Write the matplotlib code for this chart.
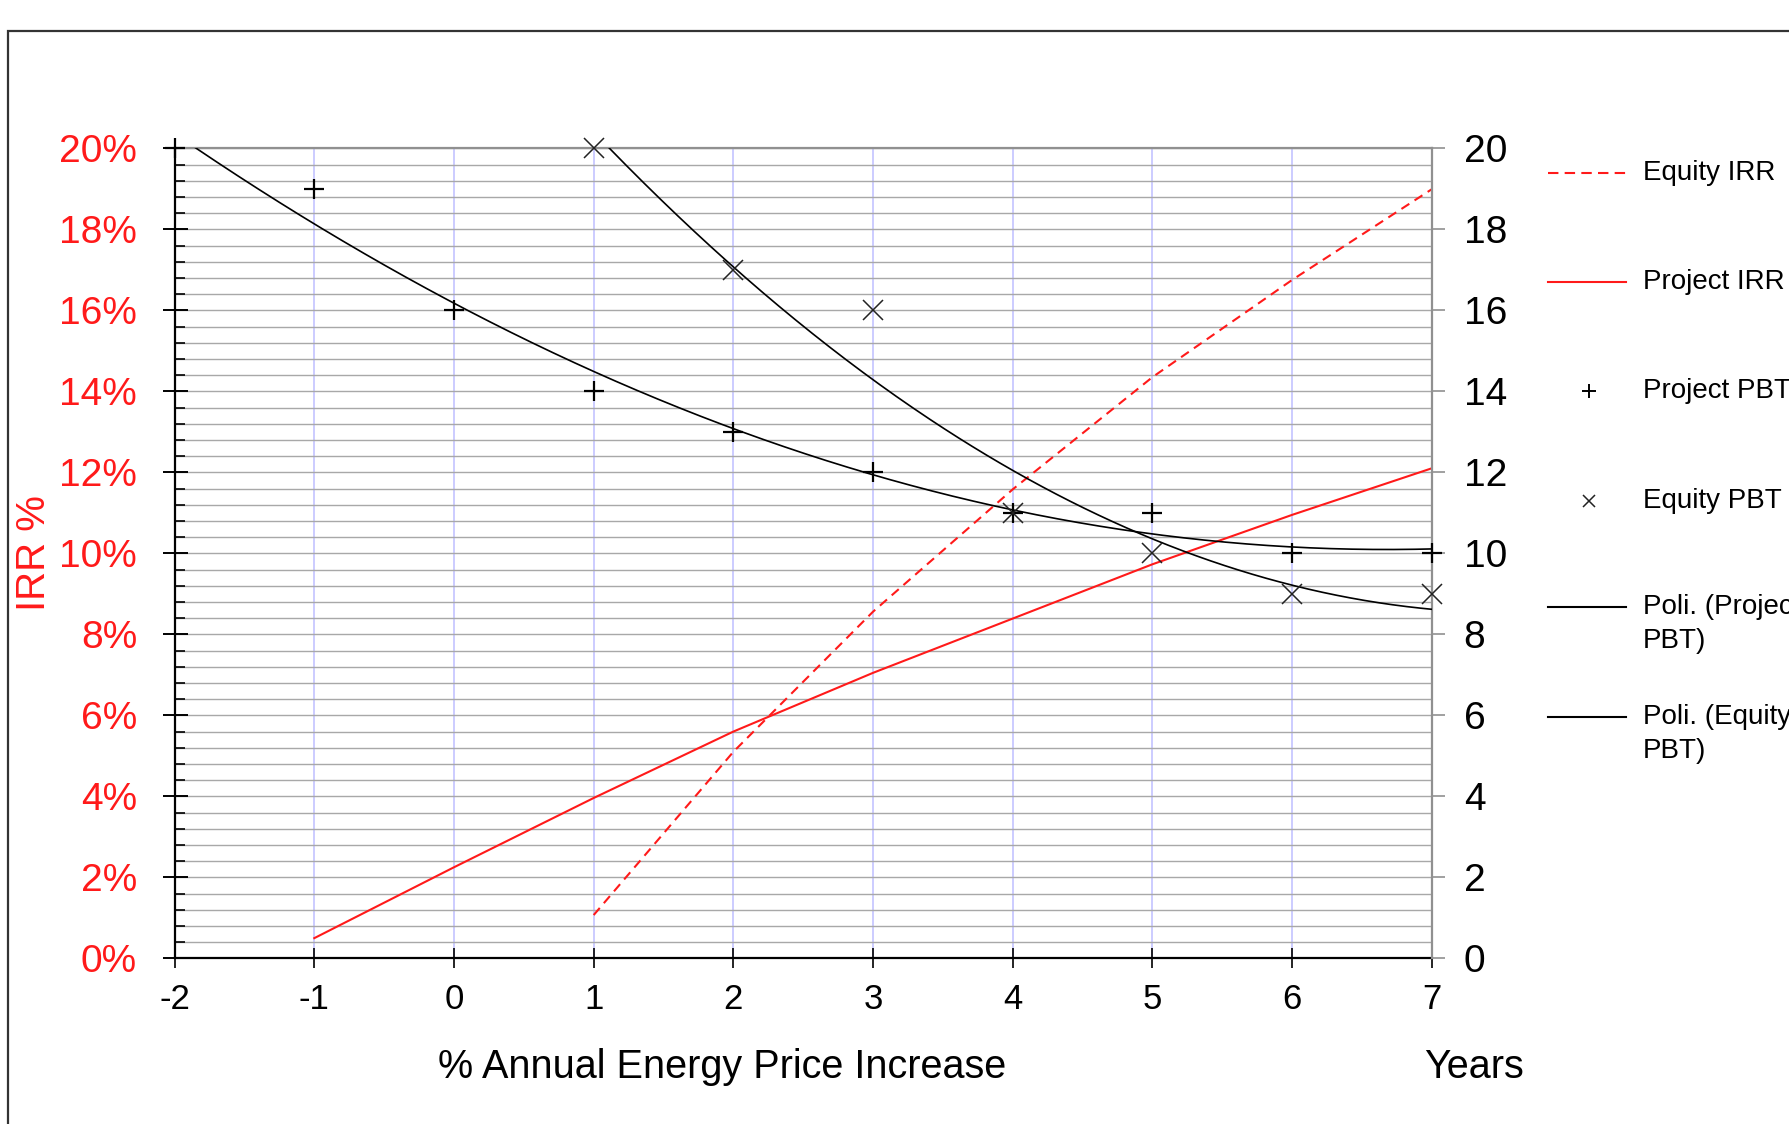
import numpy as np
import matplotlib
matplotlib.use('Agg')
import matplotlib.pyplot as plt
from matplotlib.ticker import MultipleLocator, FuncFormatter
from matplotlib.lines import Line2D
from matplotlib.patches import Rectangle

plt.rcParams['font.family'] = ['Liberation Sans', 'DejaVu Sans']
plt.rcParams['axes.unicode_minus'] = False

# IRR series (left axis, %)
irr_x_project = [-1, 0, 1, 2, 3, 4, 5, 6, 7]
project_irr = [0.5, 2.25, 3.96, 5.6, 7.05, 8.39, 9.73, 10.95, 12.1]
irr_x_equity = [1, 2, 3, 4, 5, 6, 7]
equity_irr = [1.07, 5.1, 8.56, 11.58, 14.35, 16.75, 18.99]

# payback time series (right axis, years)
pbt_x_project = [-2, -1, 0, 1, 2, 3, 4, 5, 6, 7]
project_pbt = [20, 19, 16, 14, 13, 12, 11, 11, 10, 10]
pbt_x_equity = [1, 2, 3, 4, 5, 6, 7]
equity_pbt = [20, 17, 16, 11, 10, 9, 9]

x_ticks = [-2, -1, 0, 1, 2, 3, 4, 5, 6, 7]

W, H = 1789, 1124
fig = plt.figure(figsize=(W / 100, H / 100), dpi=100)

# outer chart frame (right and bottom edges fall outside the image)
fig.patches.append(Rectangle((8 / W, -0.05), 1.1, 1 - 31 / H + 0.05,
                             transform=fig.transFigure, fill=False,
                             edgecolor='#333333', linewidth=1.6))

left, right, top, bottom = 174.6, 1431.8, 148.3, 958.4
ax = fig.add_axes([left / W, 1 - bottom / H, (right - left) / W, (bottom - top) / H])
ax2 = ax.twinx()

# grid
ax.set_xlim(-2, 7)
ax.set_ylim(0, 20)
ax.set_xticks(x_ticks)
ax.set_yticks(np.arange(0, 21, 2))
ax.yaxis.set_minor_locator(MultipleLocator(0.4))
ax.grid(True, which='both', axis='y', color='#a8a8a8', linewidth=1.0)
ax.grid(True, which='major', axis='x', color='#c4c4ff', linewidth=1.2)
ax.set_axisbelow(True)

# IRR lines
ax.plot(irr_x_project, project_irr, color='#ff1a1a', linewidth=1.5, zorder=3)
ax.plot(irr_x_equity, equity_irr, color='#ff1a1a', linewidth=1.5,
        dashes=(4.5, 3), zorder=3)

# PBT points + polynomial trendlines
ax2.set_ylim(0, 20)
ax2.set_yticks(np.arange(0, 21, 2))
ax2.plot(pbt_x_project, project_pbt, linestyle='none', marker='+',
         markersize=15, markeredgewidth=1.6, color='black', clip_on=False, zorder=4)
ax2.plot(pbt_x_equity, equity_pbt, linestyle='none', marker='x',
         markersize=15, markeredgewidth=1.1, color='#222222', clip_on=False, zorder=4)

fp = np.polyfit(pbt_x_project, project_pbt, 2)
xs = np.linspace(pbt_x_project[0], pbt_x_project[-1], 300)
ax2.plot(xs, np.polyval(fp, xs), color='black', linewidth=1.2, zorder=3)
fe = np.polyfit(pbt_x_equity, equity_pbt, 2)
xs = np.linspace(pbt_x_equity[0], pbt_x_equity[-1], 300)
ax2.plot(xs, np.polyval(fe, xs), color='black', linewidth=1.2, zorder=3)

# spines
for s in ['left', 'bottom', 'top']:
    ax2.spines[s].set_visible(False)
ax.spines['right'].set_visible(False)
ax.spines['left'].set_color('black')
ax.spines['left'].set_linewidth(1.6)
ax.spines['bottom'].set_color('black')
ax.spines['bottom'].set_linewidth(1.6)
ax.spines['top'].set_color('#909090')
ax.spines['top'].set_linewidth(1.6)
ax2.spines['right'].set_color('#909090')
ax2.spines['right'].set_linewidth(1.6)

# ticks
ax.yaxis.set_major_formatter(FuncFormatter(lambda v, p: '%d%%' % v))
ax.tick_params(axis='y', which='major', direction='inout', length=18, width=1.4,
               color='black', labelcolor='#ff1a1a', labelsize=28, pad=18)
ax.tick_params(axis='y', which='minor', direction='in', length=7, width=1.2, color='black')
ax.tick_params(axis='x', which='major', direction='inout', length=14, width=1.2,
               color='black', labelsize=25, pad=11)
ax2.tick_params(axis='y', direction='out', length=9, width=1.2, color='#909090',
                labelcolor='black', labelsize=28, pad=14)

# axis titles
fig.text(34 / W, 1 - 553 / H, 'IRR %', color='#ff1a1a', fontsize=29,
         rotation=90, ha='center', va='center')
fig.text(722 / W, 1 - 1067 / H, '% Annual Energy Price Increase', fontsize=28.5,
         ha='center', va='center')
fig.text(1474 / W, 1 - 1067 / H, 'Years', fontsize=28.5, ha='center', va='center')

# legend
lx0, lx1, tx = 1548, 1626, 1643
def fy(y):
    return 1 - y / H

fig.lines.append(Line2D([lx0 / W, lx1 / W], [fy(173), fy(173)], transform=fig.transFigure,
                        color='#ff1a1a', linewidth=1.5, dashes=(5, 3)))
fig.text(tx / W, fy(173), 'Equity IRR', fontsize=20, va='center')
fig.lines.append(Line2D([lx0 / W, lx1 / W], [fy(282), fy(282)], transform=fig.transFigure,
                        color='#ff1a1a', linewidth=1.5))
fig.text(tx / W, fy(282), 'Project IRR', fontsize=20, va='center')
fig.lines.append(Line2D([1589 / W], [fy(391)], transform=fig.transFigure, linestyle='none',
                        marker='+', markersize=10, markeredgewidth=1.4, color='black'))
fig.text(tx / W, fy(391), 'Project PBT', fontsize=20, va='center')
fig.lines.append(Line2D([1589 / W], [fy(501)], transform=fig.transFigure, linestyle='none',
                        marker='x', markersize=9, markeredgewidth=1.1, color='#222222'))
fig.text(tx / W, fy(501), 'Equity PBT', fontsize=20, va='center')
fig.lines.append(Line2D([lx0 / W, lx1 / W], [fy(607), fy(607)], transform=fig.transFigure,
                        color='black', linewidth=1.5))
fig.text(tx / W, fy(607), 'Poli. (Project', fontsize=20, va='center')
fig.text(tx / W, fy(641), 'PBT)', fontsize=20, va='center')
fig.lines.append(Line2D([lx0 / W, lx1 / W], [fy(717), fy(717)], transform=fig.transFigure,
                        color='black', linewidth=1.5))
fig.text(tx / W, fy(717), 'Poli. (Equity', fontsize=20, va='center')
fig.text(tx / W, fy(751), 'PBT)', fontsize=20, va='center')

fig.savefig('out.png', dpi=100)
